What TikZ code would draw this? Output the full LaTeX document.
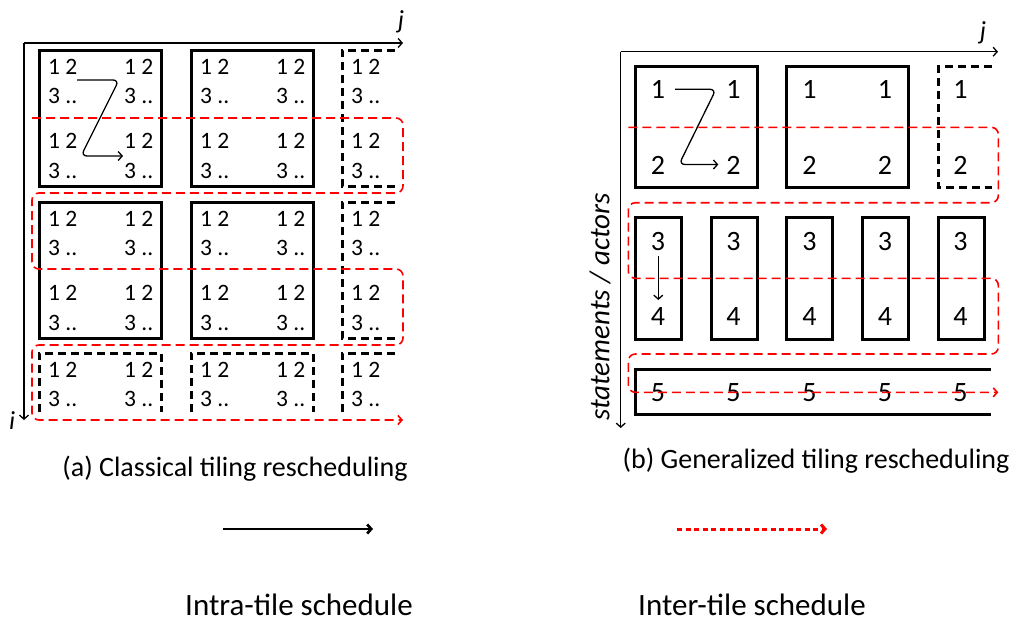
\documentclass[tikz,border=0pt]{standalone}
\usepackage{fontspec}
\setmainfont{Carlito}
\usetikzlibrary{arrows.meta}
\begin{document}
\begin{tikzpicture}[x=1pt,y=-1pt,
  tilebox/.style={line width=3pt},
  dtilebox/.style={line width=3pt, dash pattern=on 8pt off 5pt},
  arrtip/.style={-{Straight Barb[length=4pt,width=9pt]}},
  sched/.style={draw=red, line width=1.6pt, dash pattern=on 9pt off 5pt, rounded corners=7pt, arrtip},
  axline/.style={line width=1.3pt, arrtip},
  intraline/.style={line width=1.3pt, rounded corners=6pt, arrtip},
  lbl/.style={font=\fontsize{23.5}{23.5}\selectfont, inner sep=0pt, anchor=base west},
  bigdig/.style={font=\fontsize{28}{28}\selectfont, inner sep=0pt, anchor=base},
  capt/.style={font=\fontsize{28}{28}\selectfont, inner sep=0pt},
  legt/.style={font=\fontsize{31}{31}\selectfont, inner sep=0pt},
  axlbl/.style={font=\fontsize{26}{26}\selectfont\itshape, inner sep=0pt}]
\useasboundingbox (0,0) rectangle (1014,622);

% ---------- panel (a) ----------
\coordinate (ao) at (24,43);
\coordinate (aj) at (403,43);
\coordinate (ai) at (24,420);
\draw[axline] (ao) -- (aj);
\draw[axline] (ao) -- (ai);
\node[axlbl] (lj) at (401,22) {j};
\node[axlbl] (li) at (12,421) {i};

\foreach \x in {39,191} \foreach \y in {50,202}
  \draw[tilebox] (\x,\y) rectangle ++(122,136);
\foreach \y in {50,202}
  \draw[dtilebox] (395,\y) -- (342,\y) -- (342,\y+136) -- (395,\y+136);
\foreach \x in {39,191}
  \draw[dtilebox] (\x,412) -- (\x,353) -- (\x+122,353) -- (\x+122,412);
\draw[dtilebox] (395,353) -- (342,353) -- (342,412);

\foreach \x in {39,191,342} \foreach \y in {50,202,353} {
  \node[lbl] (a\x-\y-a) at (\x+9,\y+24) {1 2};
  \node[lbl] (a\x-\y-b) at (\x+9,\y+53) {3 ..};
}
\foreach \x in {39,191} \foreach \y in {50,202,353} {
  \node[lbl] (a\x-\y-c) at (\x+85,\y+24) {1 2};
  \node[lbl] (a\x-\y-d) at (\x+85,\y+53) {3 ..};
}
\foreach \x in {39,191,342} \foreach \y in {50,202} {
  \node[lbl] (a\x-\y-e) at (\x+9,\y+98) {1 2};
  \node[lbl] (a\x-\y-f) at (\x+9,\y+128) {3 ..};
}
\foreach \x in {39,191} \foreach \y in {50,202} {
  \node[lbl] (a\x-\y-g) at (\x+85,\y+98) {1 2};
  \node[lbl] (a\x-\y-h) at (\x+85,\y+128) {3 ..};
}

\coordinate (zs) at (77,80);
\coordinate (z1) at (119,80);
\coordinate (z2) at (81,156);
\coordinate (ze) at (123,156);
\draw[intraline] (zs) -- (z1) -- (z2) -- (ze);

\draw[sched] (32,118) -- (403,118) -- (403,193) -- (32,193) -- (32,269) -- (403,269)
  -- (403,345) -- (32,345) -- (32,420) -- (403,420);

\node[capt] (capa) at (235,469) {(a) Classical tiling rescheduling};

% ---------- panel (b) ----------
\coordinate (bo) at (620.7,51.7);
\coordinate (bj) at (998,51.7);
\coordinate (bi) at (620.7,428);
\draw[axline] (bo) -- (bj);
\draw[axline] (bo) -- (bi);
\node[axlbl] (rj) at (983,33) {j};
\node[axlbl, font=\fontsize{29}{29}\selectfont\itshape, rotate=90] (sa) at (600,307) {statements / actors};

\draw[tilebox] (635.7,66.7) rectangle (757.3,187.7);
\draw[tilebox] (786.7,66.7) rectangle (908.3,187.7);
\draw[dtilebox] (991.7,66.7) -- (938.3,66.7) -- (938.3,187.7) -- (991.7,187.7);
\foreach \x in {635.7,711,786.7,862.7,938.3}
  \draw[tilebox] (\x,217.7) rectangle ++(46,121.6);
\draw[tilebox] (991,369.3) -- (635.7,369.3) -- (635.7,414.3) -- (991,414.3);

\foreach \x/\n in {658/1,733.5/2,809.5/3,885/4,960.5/5} {
  \node[bigdig] (b3-\n) at (\x,250) {3};
  \node[bigdig] (b4-\n) at (\x,325) {4};
  \node[bigdig] (b5-\n) at (\x,401) {5};
}
\foreach \x/\n in {658/1,733.5/2,809.5/3,885/4,960.5/5} {
  \node[bigdig] (b1-\n) at (\x,98.5) {1};
  \node[bigdig] (b2-\n) at (\x,174.5) {2};
}

\coordinate (ys) at (675,89.3);
\coordinate (y1) at (716,89.3);
\coordinate (y2) at (679,164.5);
\coordinate (ye) at (718.3,164.5);
\draw[intraline] (ys) -- (y1) -- (y2) -- (ye);
\coordinate (x3) at (658.3,256);
\coordinate (x4) at (658.3,300);
\draw[line width=1.3pt, arrtip] (x3) -- (x4);

\draw[sched] (628.3,127.3) -- (998.3,127.3) -- (998.3,202.7) -- (628.3,202.7) -- (628.3,278.3)
  -- (998.3,278.3) -- (998.3,354) -- (628.3,354) -- (628.3,392.3) -- (998.3,392.3);

\node[capt] (capb) at (816,461) {(b) Generalized tiling rescheduling};

% ---------- legend ----------
\coordinate (la) at (223,529);
\coordinate (lb) at (373,529);
\draw[line width=2.7pt, arrtip] (la) -- (lb);
\coordinate (ra) at (677,529);
\coordinate (rb) at (827,529);
\draw[red, line width=3pt, dash pattern=on 5pt off 3.5pt, arrtip] (ra) -- (rb);
\node[legt] (intra) at (299,605) {Intra-tile schedule};
\node[legt] (inter) at (752,605) {Inter-tile schedule};
\end{tikzpicture}
\end{document}
